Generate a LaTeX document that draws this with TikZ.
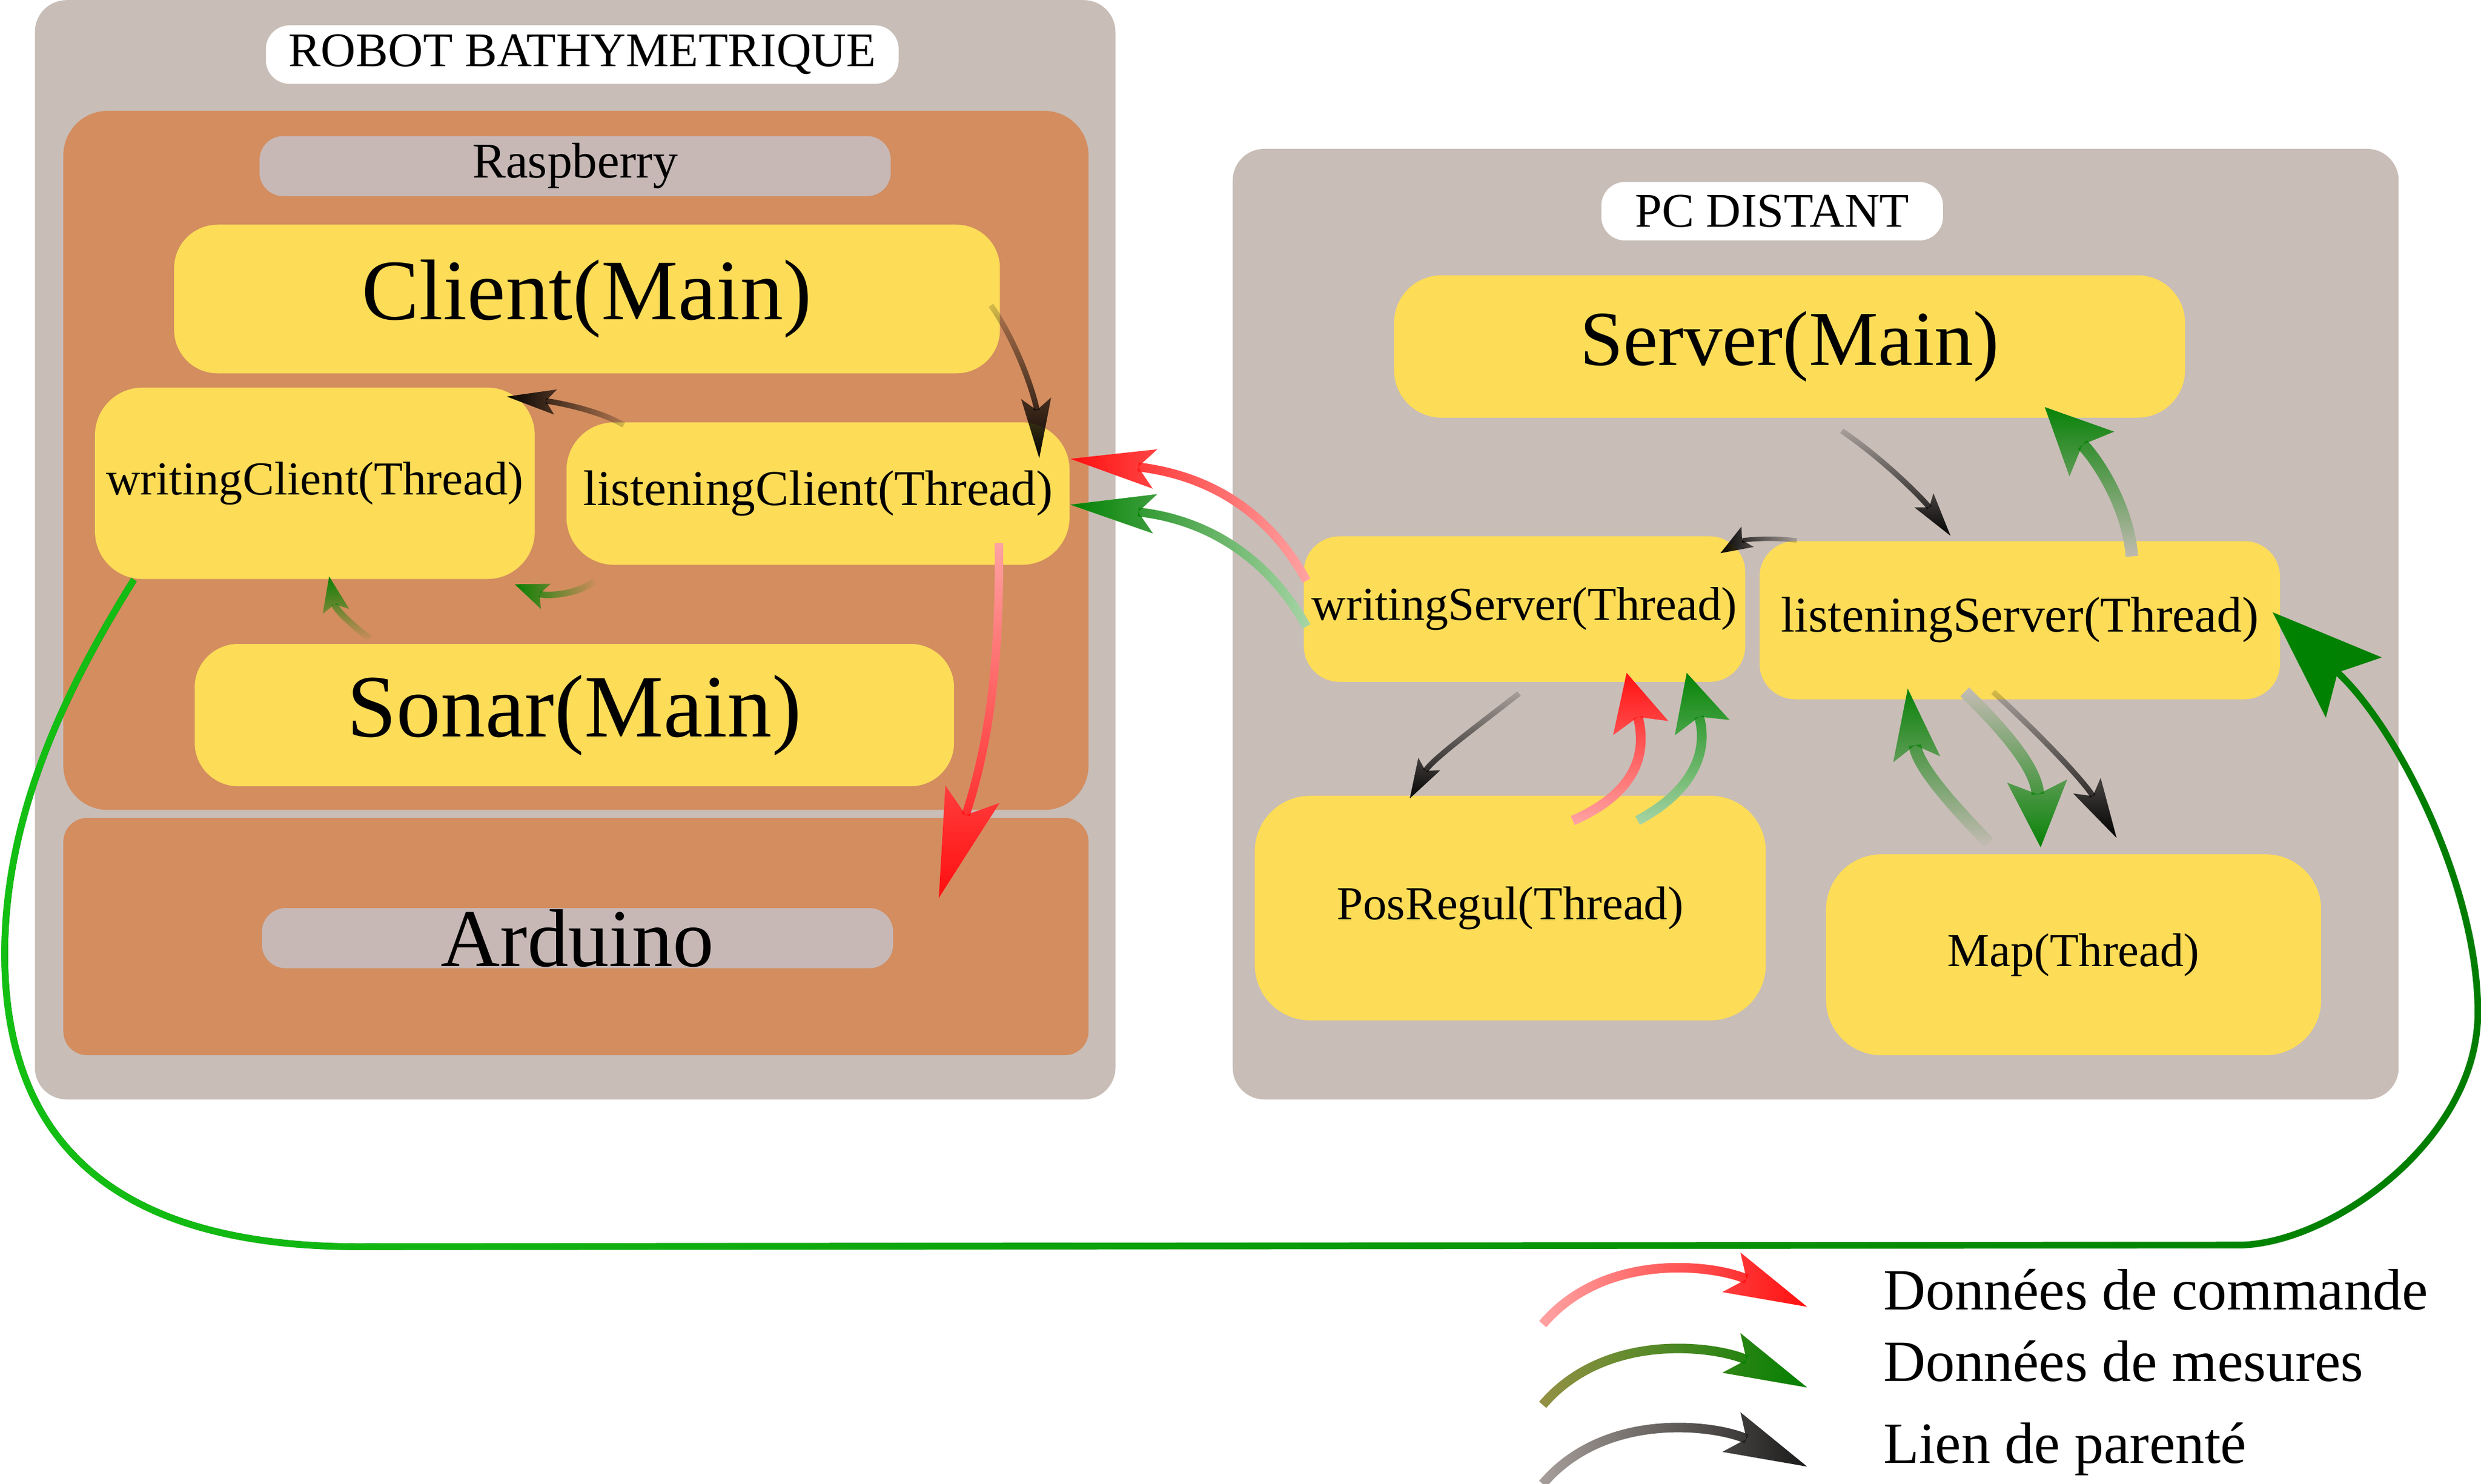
\documentclass[tikz,border=0pt]{standalone}
\usepackage{fontspec}
\setmainfont{Liberation Serif}
\usepackage{tikz}
\usetikzlibrary{arrows.meta,fadings,calc}

\definecolor{boxgray}{RGB}{200,189,183}
\definecolor{taggray}{RGB}{199,184,182}
\definecolor{boardorange}{RGB}{211,141,95}
\definecolor{procyellow}{RGB}{253,220,88}
\definecolor{cmdred}{RGB}{255,12,12}
\definecolor{cmdpink}{RGB}{255,165,165}
\definecolor{mesgreen}{RGB}{0,128,0}
\definecolor{mestint}{RGB}{168,214,168}
\definecolor{loopgreen}{RGB}{20,192,20}
\definecolor{loopdark}{RGB}{0,125,0}
\definecolor{mesolive}{RGB}{150,145,70}
\definecolor{lienlight}{RGB}{168,160,156}
\definecolor{liendark}{RGB}{25,25,25}

\tikzfading[name=toW, left color=transparent!0, right color=transparent!85]
\tikzfading[name=toS, top color=transparent!85, bottom color=transparent!0]
\tikzfading[name=fullE, left color=transparent!100, right color=transparent!0]
\tikzfading[name=fullW, left color=transparent!0, right color=transparent!100]
\tikzfading[name=fullN, top color=transparent!0, bottom color=transparent!100]
\tikzfading[name=fullS, top color=transparent!100, bottom color=transparent!0]

\begin{document}
\begin{tikzpicture}[x=0.02cm, y=-0.02cm,
    frame/.style={rectangle, fill=boxgray, rounded corners=0.4cm, inner sep=0pt},
    board/.style={rectangle, fill=boardorange, inner sep=0pt},
    tag/.style={rectangle, fill=white, rounded corners=0.3cm, inner sep=0pt,
        font=\fontsize{17.4}{20}\selectfont},
    mainproc/.style={rectangle, fill=procyellow, rounded corners=0.55cm, inner sep=0pt,
        font=\fontsize{31}{36}\selectfont},
    thread/.style={rectangle, fill=procyellow, rounded corners=0.6cm, inner sep=0pt,
        font=\fontsize{17}{20}\selectfont},
    legend/.style={inner sep=0pt, font=\fontsize{21}{24}\selectfont},
    head/.style 2 args={-{Stealth[length=#1, width=#2, inset'=0pt 0.2, line width=0pt]}},
    parent/.style={draw=black, line width=2pt, path fading=#1},
    command/.style={draw=cmdpink, line width=3.2pt, postaction={draw=cmdred, path fading=#1}},
    measure/.style={draw=mestint, line width=3.2pt, postaction={draw=mesgreen, path fading=#1}},
    loopline/.style={line width=2.4pt, head={1.4cm}{1.04cm}},
    legendarrow/.style={line width=3.4pt, head={1.05cm}{0.55cm}}
]
\path [use as bounding box, fill=white] (0,0) rectangle (1568,938);

\node (Robot) [frame, minimum width=13.66cm, minimum height=13.9cm] at (363.5,347.5) {};
\node (RobotTitle) [tag, minimum width=8cm, minimum height=0.74cm] at (368,34.5) {ROBOT BATHYMETRIQUE};
\node (Rasp) [board, rounded corners=0.56cm, minimum width=12.96cm, minimum height=8.84cm] at (364,291) {};
\node (RaspTag) [tag, fill=taggray, font=\fontsize{18}{20}\selectfont,
    minimum width=7.98cm, minimum height=0.76cm] at (363.5,105) {Raspberry};
\node (ClientMain) [mainproc, minimum width=10.44cm, minimum height=1.88cm] at (371,189) {Client(Main)};
\node (WritingCl) [thread, minimum width=5.56cm, minimum height=2.42cm] at (199,305.5) {writingClient(Thread)};
\node (ListeningCl) [thread, font=\fontsize{18}{20}\selectfont,
    minimum width=6.36cm, minimum height=1.8cm] at (517,312) {listeningClient(Thread)};
\node (SonarMain) [mainproc, font=\fontsize{32}{36}\selectfont,
    minimum width=9.6cm, minimum height=1.8cm] at (363,452) {Sonar(Main)};
\node (Ardu) [board, rounded corners=0.3cm, minimum width=12.96cm, minimum height=3cm] at (364,592) {};
\node (ArduTag) [tag, fill=taggray, font=\fontsize{29.5}{32}\selectfont,
    minimum width=7.98cm, minimum height=0.76cm] at (365,593) {Arduino};

\node (Pc) [frame, minimum width=14.74cm, minimum height=12.02cm] at (1147.5,394.5) {};
\node (PcTitle) [tag, minimum width=4.32cm, minimum height=0.74cm] at (1120,133.5) {PC DISTANT};
\node (ServerMain) [mainproc, rounded corners=0.6cm, font=\fontsize{28}{32}\selectfont,
    minimum width=10cm, minimum height=1.8cm] at (1131,219) {Server(Main)};
\node (WritingSrv) [thread, rounded corners=0.45cm, minimum width=5.58cm, minimum height=1.84cm] at (963.5,385) {writingServer(Thread)};
\node (ListeningSrv) [thread, rounded corners=0.45cm, font=\fontsize{18}{20}\selectfont,
    minimum width=6.58cm, minimum height=2cm] at (1276.5,392) {listeningServer(Thread)};
\node (PosRegul) [thread, rounded corners=0.7cm, minimum width=6.46cm, minimum height=2.84cm] at (954.5,574) {PosRegul(Thread)};
\node (MapTh) [thread, rounded corners=0.7cm, minimum width=6.26cm, minimum height=2.54cm] at (1310.5,603.5) {Map(Thread)};

% robot side
\draw [parent=toS, head={0.76cm}{0.38cm}] ($(ClientMain.east)+(-6,4)$)
    .. controls (645,220) and (655,255) .. ($(ListeningCl.north east)+(-19.5,23)$);
\draw [parent=toW, head={0.62cm}{0.32cm}] ($(ListeningCl.north west)+(36.5,2)$)
    .. controls (378,259) and (350,254) .. ($(WritingCl.north east)+(-18,6)$);
\draw [measure=fullW, draw=boardorange, line width=2.3pt, head={0.42cm}{0.34cm}] ($(ListeningCl.south west)+(18,10)$)
    .. controls (365,376) and (345,377) .. ($(WritingCl.south east)+(-13,3)$);
\draw [measure=fullN, draw=boardorange, line width=2.3pt, head={0.45cm}{0.34cm}] ($(SonarMain.north west)+(111,-3)$)
    .. controls (222,395) and (212,385) .. ($(WritingCl.south)+(9,-2)$);
\draw [command=fullS, line width=3pt, head={1.38cm}{0.72cm}] ($(ListeningCl.south east)+(-45,-14)$)
    .. controls (632,420) and (625,470) .. ($(Ardu.north east)+(-95,51)$);

% link between robot and pc
\draw [command=fullW, head={1.08cm}{0.5cm}] ($(WritingSrv.west)+(2,-18)$)
    .. controls (800,320) and (760,300) .. ($(ListeningCl.east)+(0,-22)$);
\draw [measure=fullW, head={1.08cm}{0.5cm}] ($(WritingSrv.west)+(2,11)$)
    .. controls (800,350) and (760,328) .. ($(ListeningCl.east)+(0,7)$);

% pc side
\draw [parent=toS, head={0.56cm}{0.3cm}] ($(ServerMain.south)+(33,8)$)
    .. controls (1190,290) and (1215,315) .. ($(ListeningSrv.north west)+(121,-3)$);
\draw [parent=toW, line width=1.6pt, head={0.4cm}{0.3cm}] ($(ListeningSrv.north west)+(24,0)$)
    .. controls (1115,339) and (1100,342) .. ($(WritingSrv.north east)+(-16,11)$);
\draw [measure=fullN, draw=boxgray, line width=4.5pt, head={0.84cm}{0.8cm}] ($(ListeningSrv.north east)+(-94,10)$)
    .. controls (1345,320) and (1325,290) .. ($(ServerMain.south east)+(-89,-7)$);
\draw [parent=toS, head={0.5cm}{0.32cm}] ($(WritingSrv.south)+(-3.5,7)$)
    .. controls (935,458) and (905,480) .. ($(PosRegul.north)+(-63.5,2)$);
\draw [command=fullN, line width=3.5pt, head={0.72cm}{0.72cm}] ($(PosRegul.north)+(39.5,16)$)
    .. controls (1030,503) and (1042,480) .. ($(WritingSrv.south)+(64.5,-6)$);
\draw [measure=fullN, line width=3.5pt, head={0.72cm}{0.72cm}] ($(PosRegul.north)+(80.5,16)$)
    .. controls (1070,500) and (1080,475) .. ($(WritingSrv.south)+(102.5,-6)$);
\draw [measure=fullN, draw=boxgray, line width=4.5pt, head={0.9cm}{0.6cm}] ($(MapTh.north west)+(103,-7)$)
    .. controls (1235,510) and (1212,485) .. ($(ListeningSrv.south west)+(94,-7)$);
\draw [measure=fullS, draw=boxgray, line width=4.5pt, head={0.84cm}{0.76cm}] ($(ListeningSrv.south west)+(130,-5)$)
    .. controls (1265,460) and (1287,485) .. ($(MapTh.north west)+(136,-4)$);
\draw [parent=toS, head={0.76cm}{0.4cm}] ($(ListeningSrv.south west)+(148,-5)$)
    .. controls (1290,465) and (1318,495) .. ($(MapTh.north west)+(184,-10)$);

% big loop
\draw [loopline, draw=loopdark, postaction={draw=loopgreen, path fading=fullW}]
    ($(WritingCl.south west)+(25,0)$) .. controls (45,430) and (4,510) .. (3,600)
    .. controls (2,720) and (70,790) .. (234,788) -- (1417,787)
    .. controls (1475,785) and (1566,720) .. (1566,640)
    .. controls (1566,560) and (1515,460) .. ($(ListeningSrv.east)+(-5,-5)$);

% legend
\coordinate (CmdTail) at (975,837);
\coordinate (CmdTip) at (1142,826);
\coordinate (MesTail) at (975,888);
\coordinate (MesTip) at (1142,877);
\coordinate (LienTail) at (975,938);
\coordinate (LienTip) at (1142,927);
\draw [legendarrow, draw=cmdpink, postaction={draw=cmdred, path fading=fullE}] (CmdTail)
    .. controls (1015,790) and (1085,800) .. (CmdTip);
\draw [legendarrow, draw=mesolive, postaction={draw=mesgreen, path fading=fullE}] (MesTail)
    .. controls (1015,841) and (1085,851) .. (MesTip);
\draw [legendarrow, draw=lienlight, postaction={draw=liendark, path fading=fullE}] (LienTail)
    .. controls (1015,891) and (1085,901) .. (LienTip);
\node (CmdText) [legend, anchor=base west] at (1190,828) {Données de commande};
\node (MesText) [legend, anchor=base west] at (1190,873) {Données de mesures};
\node (LienText) [legend, anchor=base west] at (1190,925) {Lien de parenté};
\end{tikzpicture}
\end{document}
